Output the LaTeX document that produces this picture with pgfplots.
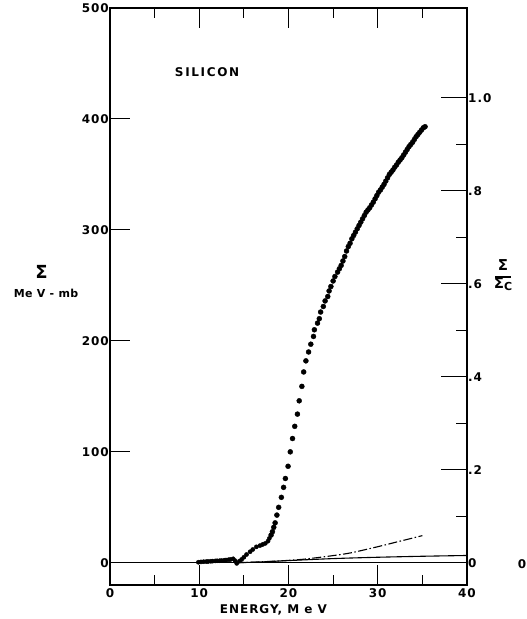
\documentclass[border=0pt]{standalone}
\usepackage{fontspec}
\setmainfont{DejaVu Sans}
\usepackage{pgfplots}
\pgfplotsset{compat=1.18}
\newcommand{\lab}{\fontsize{12}{14}\selectfont\bfseries\addfontfeature{LetterSpace=8}}
\begin{document}
\begin{tikzpicture}
\begin{axis}[
  scale only axis, width=357pt, height=577pt,
  xmin=0, xmax=40, ymin=-20, ymax=500,
  axis line style={line width=1.4pt},
  xtick={0,10,20,30,40}, minor xtick={5,15,25,35},
  ytick={0,100,200,300,400,500}, ytick pos=left,
  tick align=inside,
  major tick length=20pt, minor tick length=10pt,
  tick style={line width=1pt, black},
  /pgf/number format/assume math mode=true,
  ticklabel style={font=\lab},
  yticklabel style={inner xsep=1pt},
  xticklabel style={inner ysep=3pt},
  xlabel={ENERGY, M e V},
  xlabel style={at={(axis description cs:0.458,0)}, anchor=base, yshift=-28pt, font=\lab},
  clip=false,
]
\coordinate (sw) at (rel axis cs:0,0);
\coordinate (ne) at (rel axis cs:1,1);
\addplot[black, line width=0.9pt] coordinates {(0,0) (40,0)};
\addplot[only marks, mark=*, mark size=2.1pt, black] coordinates {
(9.9,0.5) (10.2,0.8) (10.5,1) (10.8,1.1) (11,1.2) (11.3,1.4) (11.5,1.5) (11.8,1.7) (12,1.8) (12.3,1.9)
(12.5,2) (12.8,2.3) (13,2.5) (13.3,2.8) (13.5,3) (13.8,3.6) (14.0,2) (14.2,-0.5) (14.5,1.5) (14.75,3)
(15.0,5) (15.3,7.5) (15.7,10) (16.0,12) (16.4,14.4) (16.8,15.5) (17.1,16.5) (17.4,17.5) (17.7,19.5) (17.85,22)
};
\addplot[only marks, mark=*, mark size=2.5pt, black] coordinates {
(18.05,25) (18.2,28) (18.35,32) (18.5,36) (18.7,43) (18.9,50) (19.2,59) (19.45,68) (19.65,76) (19.95,87)
(20.2,100) (20.45,112) (20.7,123) (21.0,134) (21.2,146) (21.5,159) (21.7,172) (21.95,182) (22.25,190) (22.5,197)
(22.8,204) (22.9,210) (23.25,216) (23.45,220) (23.6,226) (23.9,231) (24.1,236) (24.4,240) (24.55,245) (24.75,249)
(25.0,254) (25.2,258) (25.5,262) (25.7,265) (25.9,268) (26.1,272) (26.3,276) (26.5,281) (26.7,285) (26.9,288)
(27.1,292) (27.3,295) (27.5,298) (27.7,301) (27.9,304) (28.1,307) (28.3,310) (28.5,313) (28.7,316) (28.9,318)
(29.1,320) (29.3,322.5) (29.5,325) (29.7,328) (29.9,331) (30.1,334) (30.3,336) (30.5,338.5) (30.7,341) (30.9,344)
(31.1,347) (31.3,350) (31.5,352) (31.7,354) (31.9,356.5) (32.1,358.5) (32.3,361) (32.5,363) (32.7,365) (32.9,367.5)
(33.1,370) (33.3,372.5) (33.5,375) (33.7,377) (33.9,379) (34.1,381.5) (34.3,384) (34.5,386) (34.7,388) (34.9,390)
(35.1,392) (35.3,393)
};
\addplot[black, line width=1.1pt, dash pattern=on 9pt off 2.5pt on 1.5pt off 2.5pt, smooth] coordinates {
(14,0) (17,0.9) (20,2.2) (22,3.5) (25,6.5) (27,9) (30,14.5) (32,18.5) (35,24.5)
};
\addplot[black, line width=1.1pt, smooth] coordinates {
(14,0) (17,0.8) (20,2) (25,3.8) (30,5) (35,5.9) (40,6.6)
};
\node[font=\lab, anchor=center] at (axis description cs:0.272,0.889) {\addfontfeature{LetterSpace=14}SILICON};
\node[anchor=base, inner sep=0pt, font=\fontsize{18}{18}\selectfont\bfseries] at (axis description cs:-0.192,0.532) {Σ};
\node[anchor=base, inner sep=0pt, font=\fontsize{11}{12}\selectfont\bfseries] at (axis description cs:-0.179,0.499) {\addfontfeature{LetterSpace=4}Me V - mb};
\end{axis}
\begin{axis}[
  scale only axis, width=357pt, height=577pt,
  xmin=0, xmax=40, ymin=-0.0473, ymax=1.1928,
  axis x line=none, axis y line*=right,
  axis line style={line width=1.4pt},
  ytick={0,0.2,0.4,0.6,0.8,1.0},
  yticklabels={0,.2,.4,.6,.8,1.0},
  minor ytick={0.1,0.3,0.5,0.7,0.9},
  tick align=inside,
  major tick length=26pt, minor tick length=11pt,
  tick style={line width=1pt, black},
  ticklabel style={font=\lab},
  yticklabel style={inner xsep=1pt},
  clip=false,
]
\node[inner sep=0pt, align=center] at (axis description cs:1.101,0.537)
  {{\fontsize{15}{15}\selectfont\bfseries Σ}\\[-5pt]\rule{16pt}{1.1pt}\\[-1pt]{\fontsize{15}{15}\selectfont\bfseries Σ\raisebox{-2pt}{\fontsize{11}{11}\selectfont\bfseries C}}};
\node[font=\lab, anchor=center] at (axis description cs:1.154,0.036) {0};
\end{axis}
\pgfresetboundingbox
\path ([shift={(-110pt,-34pt)}]sw) rectangle ([shift={(59pt,8pt)}]ne);
\end{tikzpicture}
\end{document}
